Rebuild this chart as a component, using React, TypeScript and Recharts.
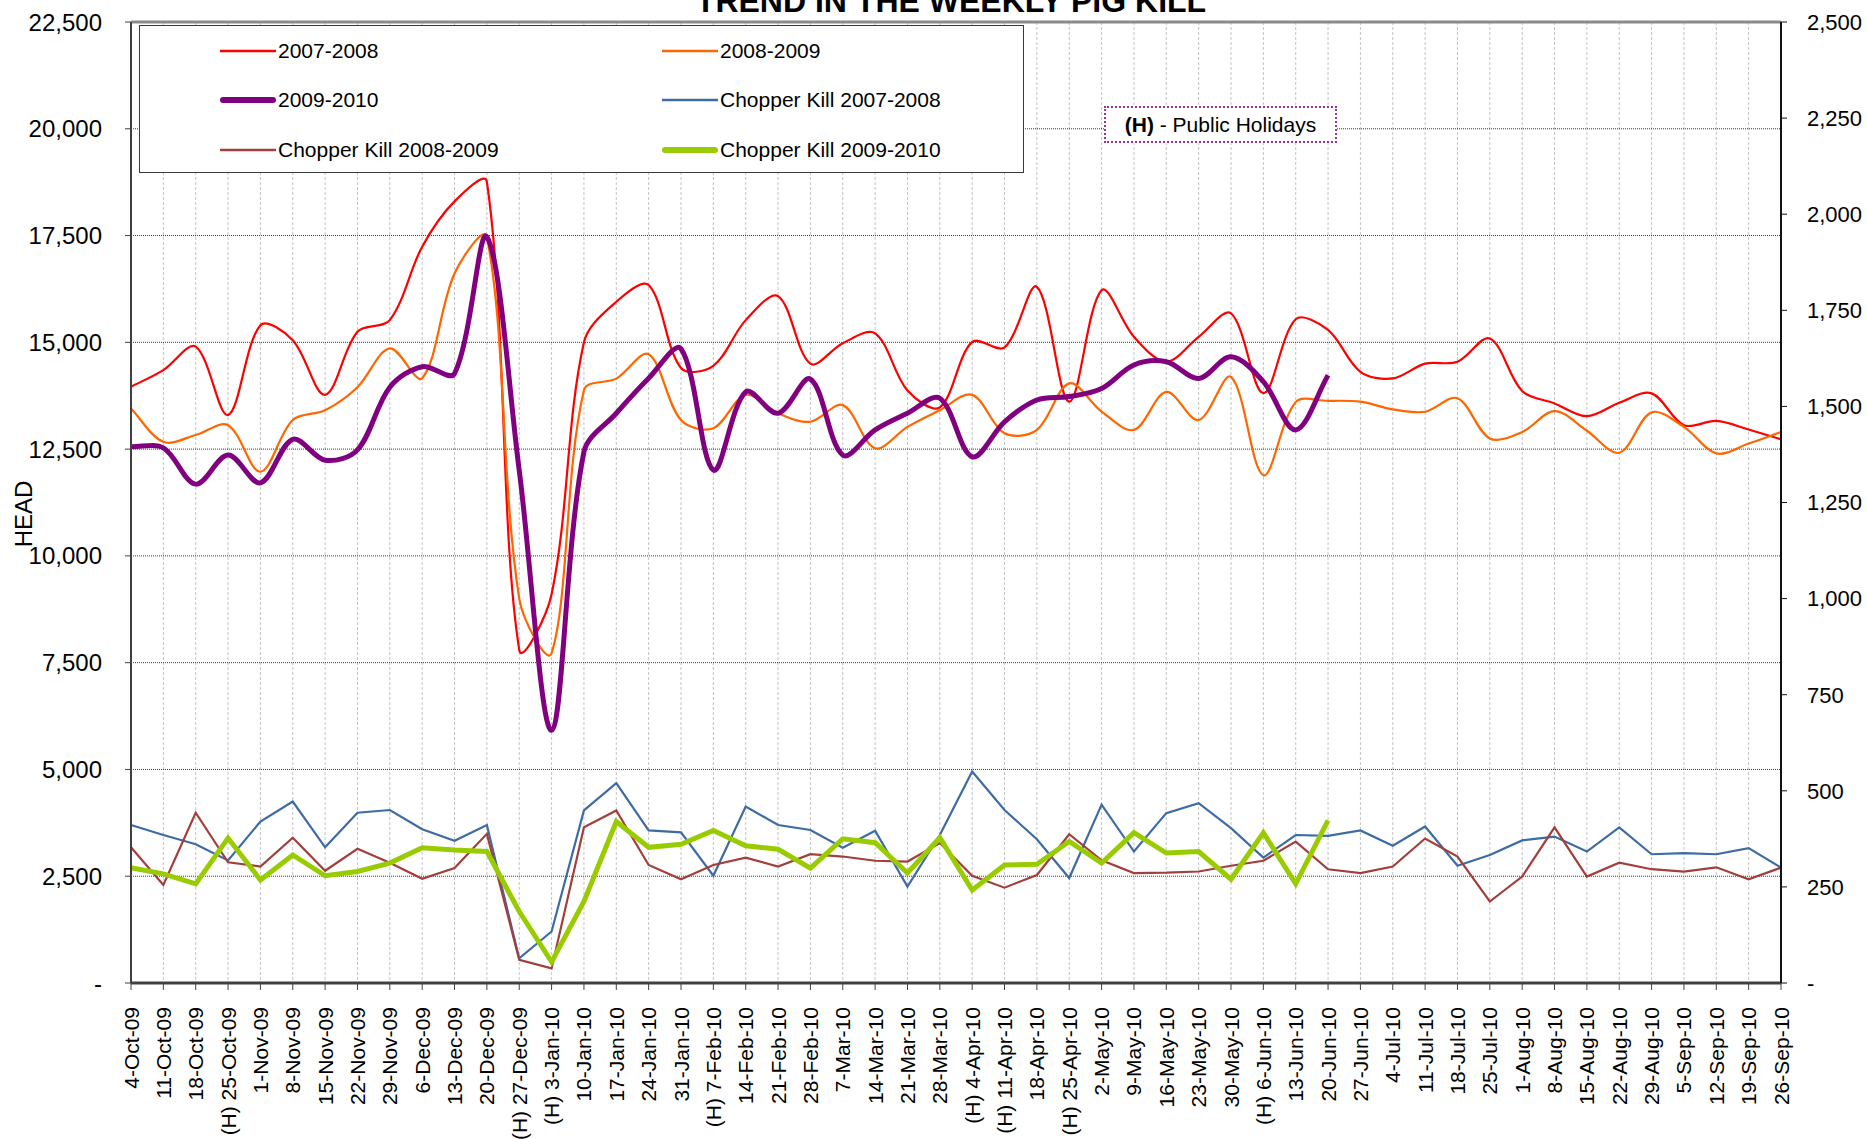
import React from 'react';
import { LineChart, Line, XAxis, YAxis, CartesianGrid, ReferenceLine, Legend } from 'recharts';

const categories = [
  '4-Oct-09', '11-Oct-09', '18-Oct-09', '(H) 25-Oct-09', '1-Nov-09', '8-Nov-09', '15-Nov-09', '22-Nov-09',
  '29-Nov-09', '6-Dec-09', '13-Dec-09', '20-Dec-09', '(H) 27-Dec-09', '(H) 3-Jan-10', '10-Jan-10', '17-Jan-10',
  '24-Jan-10', '31-Jan-10', '(H) 7-Feb-10', '14-Feb-10', '21-Feb-10', '28-Feb-10', '7-Mar-10', '14-Mar-10',
  '21-Mar-10', '28-Mar-10', '(H) 4-Apr-10', '(H) 11-Apr-10', '18-Apr-10', '(H) 25-Apr-10', '2-May-10', '9-May-10',
  '16-May-10', '23-May-10', '30-May-10', '(H) 6-Jun-10', '13-Jun-10', '20-Jun-10', '27-Jun-10', '4-Jul-10',
  '11-Jul-10', '18-Jul-10', '25-Jul-10', '1-Aug-10', '8-Aug-10', '15-Aug-10', '22-Aug-10', '29-Aug-10',
  '5-Sep-10', '12-Sep-10', '19-Sep-10', '26-Sep-10',
];

const kill0708 = [
  13960, 14350, 14900, 13300, 15400, 15050, 13770, 15250, 15520, 17240, 18300, 18760, 7800, 9100, 15000, 15950,
  16340, 14400, 14450, 15520, 16080, 14500, 14980, 15210, 13870, 13480, 15010, 14880, 16300, 13610, 16220, 15130,
  14545, 15130, 15680, 13810, 15540, 15290, 14310, 14155, 14500, 14545, 15090, 13860, 13570, 13270, 13585, 13805,
  13060, 13160, 12960, 12730,
];

const kill0809 = [
  13450, 12670, 12830, 13060, 11970, 13180, 13410, 13950, 14860, 14160, 16610, 17470, 9000, 7720, 13880, 14150,
  14720, 13180, 12990, 13770, 13340, 13140, 13530, 12520, 13020, 13410, 13770, 12870, 12950, 14040, 13380, 12950,
  13840, 13180, 14190, 11890, 13600, 13630, 13610, 13430, 13375, 13690, 12750, 12900, 13390, 12930, 12415, 13360,
  13020, 12400, 12630, 12900,
];

const kill0910 = [
  12555, 12530, 11680, 12360, 11710, 12730, 12240, 12480, 13950, 14430, 14270, 17470, 12000, 5920, 12440, 13340,
  14160, 14850, 12010, 13840, 13340, 14140, 12360, 12950, 13340, 13690, 12320, 13140, 13650, 13730, 13920, 14470,
  14545, 14155, 14660, 14080, 12950, 14230,
];

const chopper0708 = [
  411, 385, 361, 319, 420, 472, 353, 443, 450, 400, 370, 411, 64, 134, 449, 520,
  397, 392, 279, 459, 411, 398, 352, 396, 251, 385, 550, 450, 374, 273, 464, 342,
  442, 468, 403, 326, 385, 383, 397, 357, 407, 305, 333, 371, 381, 342, 405, 335,
  338, 335, 351, 300,
];

const chopper0809 = [
  353, 255, 443, 314, 303, 378, 292, 349, 313, 271, 299, 388, 60, 38, 405, 449,
  307, 270, 307, 326, 303, 335, 329, 318, 316, 364, 279, 248, 281, 387, 319, 286,
  287, 290, 305, 318, 368, 296, 286, 303, 376, 329, 212, 277, 405, 277, 313, 296,
  290, 301, 270, 300,
];

const chopper0910 = [
  300, 284, 258, 377, 268, 333, 279, 290, 312, 352, 346, 342, 186, 55, 212, 420,
  353, 361, 397, 357, 348, 299, 375, 365, 286, 378, 242, 307, 309, 368, 312, 391,
  338, 342, 270, 391, 258, 423,
];

const leftTicks = [0, 2500, 5000, 7500, 10000, 12500, 15000, 17500, 20000, 22500];
const rightTicks = [0, 250, 500, 750, 1000, 1250, 1500, 1750, 2000, 2250, 2500];

const data = categories.map((cat, i) => ({
  cat,
  k0708: kill0708[i] ?? null,
  k0809: kill0809[i] ?? null,
  k0910: kill0910[i] ?? null,
  c0708: chopper0708[i] ?? null,
  c0809: chopper0809[i] ?? null,
  c0910: chopper0910[i] ?? null,
}));

const FONT = '"Liberation Sans", Arial, Helvetica, sans-serif';

const COLORS = {
  k0708: '#FF0000',
  k0809: '#FF6600',
  k0910: '#800080',
  c0708: '#3D6BA4',
  c0809: '#A23F3C',
  c0910: '#99CC00',
};

// Excel-style smoothed line: Bezier through every point, tangents scaled by chord lengths
const excelSmooth: any = (context: any) => {
  let pts: number[][] = [];
  const dist = (a: number[], b: number[]) => Math.hypot(a[0] - b[0], a[1] - b[1]);
  return {
    areaStart() {},
    areaEnd() {},
    lineStart() {
      pts = [];
    },
    point(x: number, y: number) {
      pts.push([+x, +y]);
    },
    lineEnd() {
      const n = pts.length;
      if (n === 0) return;
      context.moveTo(pts[0][0], pts[0][1]);
      if (n === 1) return;
      // control points around each point
      const outC: number[][] = [];
      const inC: number[][] = [];
      for (let i = 0; i < n; i++) {
        const p1 = pts[i];
        const p0 = pts[Math.max(i - 1, 0)];
        const p2 = pts[Math.min(i + 1, n - 1)];
        const d01 = dist(p0, p1);
        const d12 = dist(p1, p2);
        const s = d01 + d12;
        const tx = p2[0] - p0[0];
        const ty = p2[1] - p0[1];
        if (s === 0) {
          outC.push(p1);
          inC.push(p1);
          continue;
        }
        const fo = d12 / (3 * s);
        const fi = d01 / (3 * s);
        outC.push([p1[0] + tx * fo, p1[1] + ty * fo]);
        inC.push([p1[0] - tx * fi, p1[1] - ty * fi]);
      }
      for (let i = 0; i < n - 1; i++) {
        const c1 = outC[i];
        const c2 = inC[i + 1];
        const p2 = pts[i + 1];
        context.bezierCurveTo(c1[0], c1[1], c2[0], c2[1], p2[0], p2[1]);
      }
    },
  };
};

const fmt = (v: number) => (v === 0 ? '-' : v.toLocaleString('en-US'));

const XTick = (props: any) => {
  const { x, y, payload } = props;
  return (
    <text
      x={x}
      y={y}
      transform={`rotate(-90, ${x}, ${y})`}
      textAnchor="end"
      dominantBaseline="central"
      fontSize={21}
      fontFamily={FONT}
      fill="#000"
    >
      {payload.value}
    </text>
  );
};

const legendItems = [
  { name: '2007-2008', color: COLORS.k0708, w: 2.5, col: 0, row: 0 },
  { name: '2008-2009', color: COLORS.k0809, w: 2.5, col: 1, row: 0 },
  { name: '2009-2010', color: COLORS.k0910, w: 6, col: 0, row: 1 },
  { name: 'Chopper Kill 2007-2008', color: COLORS.c0708, w: 2.5, col: 1, row: 1 },
  { name: 'Chopper Kill 2008-2009', color: COLORS.c0809, w: 2.5, col: 0, row: 2 },
  { name: 'Chopper Kill 2009-2010', color: COLORS.c0910, w: 6, col: 1, row: 2 },
];

const LegendBox = () => {
  const rowY = [25, 74, 124];
  const colX = [80, 522];
  return (
    <div
      style={{
        position: 'relative',
        width: 885,
        height: 148,
        boxSizing: 'border-box',
        border: '1.5px solid #3a3a3a',
        background: '#fff',
        fontFamily: FONT,
      }}
    >
      {legendItems.map((it) => (
        <div
          key={it.name}
          style={{
            position: 'absolute',
            left: colX[it.col],
            top: rowY[it.row] - 14,
            height: 28,
            display: 'flex',
            alignItems: 'center',
            whiteSpace: 'nowrap',
          }}
        >
          <svg width={56} height={28} style={{ display: 'block' }}>
            <line
              x1={it.w > 3 ? 3 : 0}
              y1={14}
              x2={it.w > 3 ? 53 : 56}
              y2={14}
              stroke={it.color}
              strokeWidth={it.w}
              strokeLinecap={it.w > 3 ? 'round' : 'butt'}
            />
          </svg>
          <span style={{ fontSize: 21, color: '#000', marginLeft: 2 }}>{it.name}</span>
        </div>
      ))}
    </div>
  );
};

export default function App() {
  return (
    <div style={{ position: 'absolute', left: 0, top: 0, width: 1867, height: 1139, background: '#fff', overflow: 'hidden' }}>
      <div
        style={{
          position: 'absolute',
          left: 0,
          width: 1902,
          top: -15,
          textAlign: 'center',
          fontFamily: FONT,
          fontWeight: 'bold',
          fontSize: 32,
          lineHeight: '32px',
          color: '#000',
          zIndex: 2,
          whiteSpace: 'nowrap',
        }}
      >
        TREND IN THE WEEKLY PIG KILL
      </div>
      <div
        style={{
          position: 'absolute',
          left: 24,
          top: 514,
          transform: 'translate(-50%, -50%) rotate(-90deg)',
          fontFamily: FONT,
          fontSize: 24,
          color: '#000',
          zIndex: 2,
          whiteSpace: 'nowrap',
        }}
      >
        HEAD
      </div>
      <div
        style={{
          position: 'absolute',
          left: 1104,
          top: 106,
          width: 233,
          height: 37,
          boxSizing: 'border-box',
          border: '2px dotted #993399',
          background: '#fff',
          fontFamily: FONT,
          fontSize: 21,
          color: '#000',
          display: 'flex',
          alignItems: 'center',
          justifyContent: 'center',
          zIndex: 2,
          whiteSpace: 'nowrap',
        }}
      >
        <b>(H)</b>&nbsp;- Public Holidays
      </div>
      <LineChart
        width={1867}
        height={1139}
        data={data}
        margin={{ top: 22, right: 6, bottom: 6, left: 31 }}
      >
        <CartesianGrid vertical={true} horizontal={false} stroke="#c4c4c4" strokeDasharray="3 2" />
        <CartesianGrid vertical={false} horizontal={true} stroke="#3a3a3a" strokeDasharray="1 1" />
        <XAxis
          dataKey="cat"
          interval={0}
          height={150}
          tickSize={7}
          tickMargin={17}
          tick={<XTick />}
          axisLine={{ stroke: '#404040', strokeWidth: 3 }}
          tickLine={{ stroke: '#404040' }}
        />
        <YAxis
          width={100}
          domain={[0, 22500]}
          ticks={leftTicks}
          interval={0}
          tickFormatter={fmt}
          tickSize={6}
          tickMargin={23}
          tick={{ fontSize: 24, fill: '#000', fontFamily: FONT }}
          axisLine={{ stroke: '#404040', strokeWidth: 2 }}
          tickLine={{ stroke: '#404040' }}
        />
        <YAxis
          yAxisId="right"
          orientation="right"
          width={80}
          domain={[0, 2500]}
          ticks={rightTicks}
          interval={0}
          tickFormatter={fmt}
          tickSize={6}
          tickMargin={20}
          tick={{ fontSize: 22, fill: '#000', fontFamily: FONT, textAnchor: 'start' }}
          axisLine={{ stroke: '#111', strokeWidth: 2 }}
          tickLine={{ stroke: '#111' }}
        />
        <ReferenceLine y={22500} stroke="#8a8a8a" strokeWidth={3} />
        <Legend
          layout="horizontal"
          verticalAlign="middle"
          align="center"
          wrapperStyle={{ left: 139, top: 25, width: 885, height: 148 }}
          content={() => <LegendBox />}
        />
        <Line name="2007-2008" dataKey="k0708" type={excelSmooth} stroke={COLORS.k0708} strokeWidth={2.2} dot={false} activeDot={false} isAnimationActive={false} />
        <Line name="2008-2009" dataKey="k0809" type={excelSmooth} stroke={COLORS.k0809} strokeWidth={2.2} dot={false} activeDot={false} isAnimationActive={false} />
        <Line name="2009-2010" dataKey="k0910" type={excelSmooth} stroke={COLORS.k0910} strokeWidth={5} dot={false} activeDot={false} isAnimationActive={false} />
        <Line name="Chopper Kill 2007-2008" yAxisId="right" dataKey="c0708" type="linear" stroke={COLORS.c0708} strokeWidth={2.2} dot={false} activeDot={false} isAnimationActive={false} />
        <Line name="Chopper Kill 2008-2009" yAxisId="right" dataKey="c0809" type="linear" stroke={COLORS.c0809} strokeWidth={2.2} dot={false} activeDot={false} isAnimationActive={false} />
        <Line name="Chopper Kill 2009-2010" yAxisId="right" dataKey="c0910" type="linear" stroke={COLORS.c0910} strokeWidth={5} dot={false} activeDot={false} isAnimationActive={false} />
      </LineChart>
    </div>
  );
}
